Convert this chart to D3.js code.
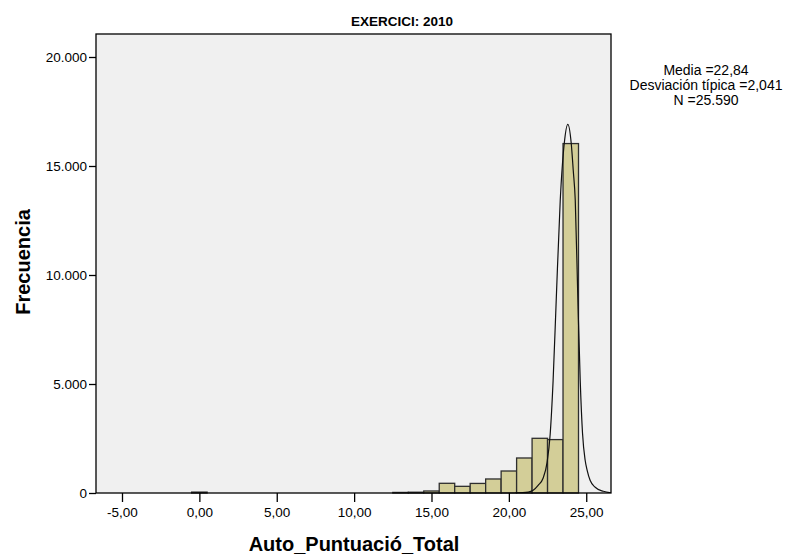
<!DOCTYPE html>
<html>
<head>
<meta charset="utf-8">
<script src="https://cdn.jsdelivr.net/npm/d3@7"></script>
<style>
body { margin: 0; background: #fff; }
svg { display: block; font-family: "Liberation Sans", Arial, sans-serif; }
</style>
</head>
<body>
<script>
// values
var chartTitle = "EXERCICI: 2010";
var xLabel = "Auto_Puntuació_Total";
var yLabel = "Frecuencia";
var binCenters = [0, 13, 14, 15, 16, 17, 18, 19, 20, 21, 22, 23, 24];
var binCounts = [41, 26, 36, 92, 445, 306, 439, 643, 1009, 1606, 2509, 2450, 16029];
var binWidth = 1;
var xTicks = [-5, 0, 5, 10, 15, 20, 25];
var yTicks = [0, 5000, 10000, 15000, 20000];
// normal curve as drawn in the picture
var curveX = [20.41, 21.25, 21.57, 21.89, 22.21, 22.47, 22.67, 22.86, 23.06, 23.32, 23.58, 23.81,
              24.03, 24.16, 24.29, 24.46, 24.61, 24.76, 24.93, 25.06, 25.25, 25.58, 26.1, 26.6];
var curveY = [0, 41, 124, 353, 674, 1408, 2693, 5169, 8839, 13426, 16041, 16913,
              16041, 14803, 13426, 8839, 5169, 2738, 1501, 1042, 582, 262, 78, 9];
var statsLines = ["Media =22,84", "Desviación típica =2,041", "N =25.590"];

function drawHistogram(){
	var W = 786, H = 556;
	var pLeft = 96, pRight = 611, pTop = 34, pBottom = 493;

	var locale = d3.formatLocale({decimal: ",", thousands: ".", grouping: [3], currency: ["", "€"], minus: "-"});

	var svg = d3.select("body").append("svg")
		.attr("width", W)
		.attr("height", H);

	var x = d3.scaleLinear().domain([-6.68, 26.6]).range([pLeft, pRight]);
	var y = d3.scaleLinear().domain([0, 21055]).range([pBottom, pTop]);

	svg.append("defs").append("clipPath")
		.attr("id", "plotclip")
		.append("rect")
		.attr("x", pLeft).attr("y", pTop)
		.attr("width", pRight - pLeft).attr("height", pBottom - pTop);

	svg.append("rect")
		.attr("x", pLeft).attr("y", pTop)
		.attr("width", pRight - pLeft).attr("height", pBottom - pTop)
		.attr("fill", "#f0f0f0");

	var bins = binCenters.map(function(c, i){ return {c: c, n: binCounts[i]}; });

	svg.append("g")
		.selectAll("rect")
		.data(bins)
		.enter()
		.append("rect")
		.attr("x", function(d){ return x(d.c - binWidth/2); })
		.attr("width", function(d){ return x(d.c + binWidth/2) - x(d.c - binWidth/2); })
		.attr("y", function(d){ return y(d.n); })
		.attr("height", function(d){ return y(0) - y(d.n); })
		.attr("fill", "#d3ce98")
		.attr("stroke", "#2e2e2e")
		.attr("stroke-width", 1.3);

	var pts = curveX.map(function(v, i){ return [v, curveY[i]]; });
	var line = d3.line()
		.x(function(d){ return x(d[0]); })
		.y(function(d){ return y(d[1]); })
		.curve(d3.curveMonotoneX);

	svg.append("path")
		.datum(pts)
		.attr("clip-path", "url(#plotclip)")
		.attr("d", line)
		.attr("fill", "none")
		.attr("stroke", "#111")
		.attr("stroke-width", 1.2);

	// frame
	svg.append("rect")
		.attr("x", pLeft).attr("y", pTop)
		.attr("width", pRight - pLeft).attr("height", pBottom - pTop)
		.attr("fill", "none")
		.attr("stroke", "#000")
		.attr("stroke-width", 1.3);

	var yAxis = svg.append("g")
		.attr("transform", "translate(" + pLeft + ",0)")
		.call(d3.axisLeft(y).tickValues(yTicks).tickSize(7).tickPadding(2).tickFormat(locale.format(",d")));
	yAxis.select(".domain").remove();

	var xAxis = svg.append("g")
		.attr("transform", "translate(0," + pBottom + ")")
		.call(d3.axisBottom(x).tickValues(xTicks).tickSize(9).tickPadding(5).tickFormat(locale.format(".2f")));
	xAxis.select(".domain").remove();

	svg.selectAll(".tick line").attr("stroke", "#000").attr("stroke-width", 1.3);
	svg.selectAll(".tick text")
		.attr("fill", "#000")
		.style("font-family", "'Liberation Sans', Arial, sans-serif")
		.style("font-size", "13.5px");

	svg.append("text")
		.attr("x", 402).attr("y", 26)
		.attr("text-anchor", "middle")
		.style("font-weight", "bold")
		.style("font-size", "13.5px")
		.text(chartTitle);

	svg.append("text")
		.attr("x", 354).attr("y", 551)
		.attr("text-anchor", "middle")
		.style("font-weight", "bold")
		.style("font-size", "20px")
		.text(xLabel);

	svg.append("text")
		.attr("transform", "translate(30,262) rotate(-90)")
		.attr("text-anchor", "middle")
		.style("font-weight", "bold")
		.style("font-size", "20px")
		.text(yLabel);

	svg.append("g")
		.selectAll("text")
		.data(statsLines)
		.enter()
		.append("text")
		.attr("x", 706)
		.attr("y", function(d, i){ return 75 + i*15; })
		.attr("text-anchor", "middle")
		.style("font-size", "14px")
		.text(function(d){ return d; });
}

drawHistogram();
</script>
</body>
</html>
